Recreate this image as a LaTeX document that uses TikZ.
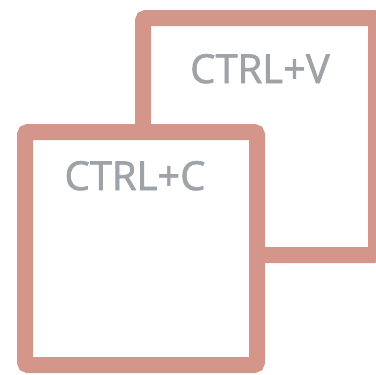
\documentclass[tikz,border=0pt]{standalone}
\usepackage{fontspec}
\setmainfont{Open Sans}[FakeBold=1.6]
\definecolor{frame}{RGB}{212,150,138}
\definecolor{label}{RGB}{158,163,168}
\tikzset{
  card/.style={draw=frame, line width=16pt, fill=white, rounded corners=3pt},
  keytext/.style={text=label, font=\fontsize{40}{42}\selectfont, inner sep=0pt, anchor=base}
}
\begin{document}
\begin{tikzpicture}[x=1pt,y=-1pt]
\useasboundingbox (0,0) rectangle (376,375);
\draw[card] (143,18) rectangle (376,255);
\node[keytext] (v) at (260,83) {CTRL+V};
\draw[card] (25,132) rectangle (257,365);
\node[keytext] (c) at (135,190) {CTRL+C};
\end{tikzpicture}
\end{document}
